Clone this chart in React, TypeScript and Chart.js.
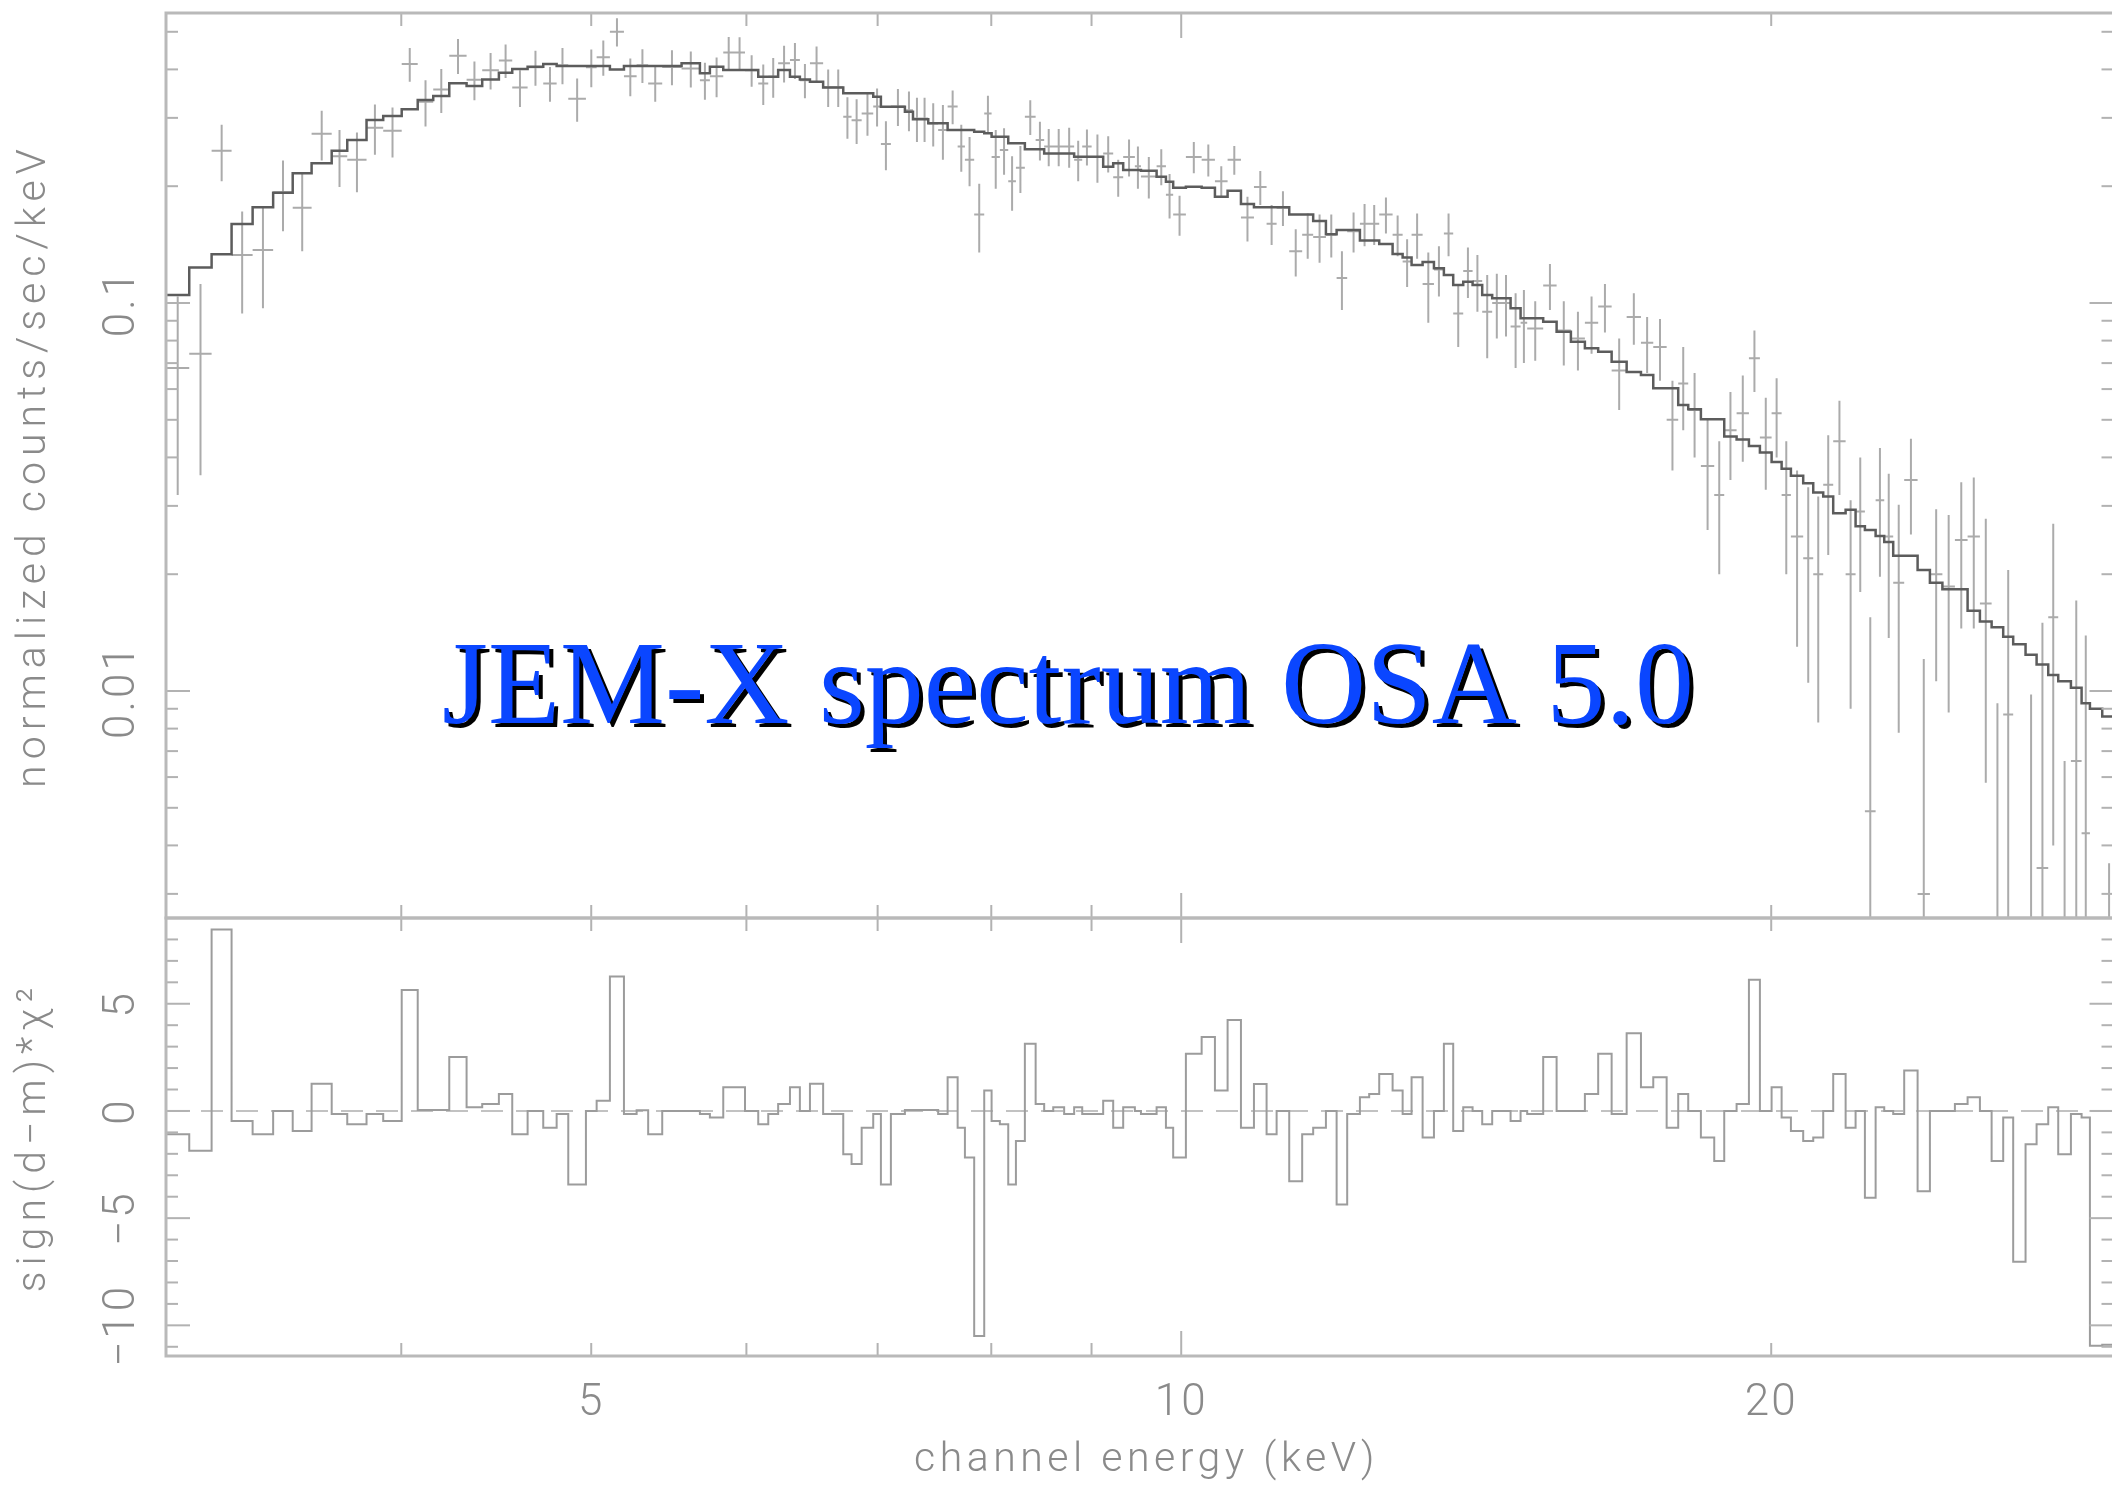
import React, { useEffect, useRef } from "react";
import { Chart, registerables } from "chart.js";

Chart.register(...registerables);

// ---------------- data ----------------
// channel bin edges in keV (163 edges -> 162 bins)
const binEdgesKeV = [
  3.034, 3.118, 3.201, 3.277, 3.359, 3.441, 3.521, 3.6, 3.686, 3.754,
  3.84, 3.916, 4.002, 4.078, 4.153, 4.232, 4.319, 4.399, 4.486, 4.557,
  4.64, 4.726, 4.801, 4.867, 4.969, 5.032, 5.111, 5.196, 5.274, 5.346,
  5.435, 5.56, 5.681, 5.748, 5.839, 5.914, 5.99, 6.084, 6.156, 6.228,
  6.315, 6.389, 6.465, 6.566, 6.644, 6.723, 6.789, 6.87, 6.964, 7.027,
  7.11, 7.228, 7.297, 7.365, 7.429, 7.516, 7.6, 7.69, 7.756, 7.841,
  7.934, 8.003, 8.081, 8.161, 8.235, 8.322, 8.428, 8.513, 8.604, 8.715,
  8.818, 8.902, 9.001, 9.124, 9.232, 9.341, 9.47, 9.538, 9.715, 9.822,
  9.906, 10.055, 10.243, 10.404, 10.56, 10.727, 10.892, 11.055, 11.186, 11.353,
  11.527, 11.677, 11.853, 12.003, 12.153, 12.336, 12.471, 12.619, 12.819, 12.971,
  13.108, 13.279, 13.457, 13.615, 13.765, 13.928, 14.082, 14.242, 14.41, 14.567,
  14.725, 14.899, 15.015, 15.3, 15.543, 15.806, 16.068, 16.321, 16.581, 16.876,
  17.162, 17.412, 17.688, 17.93, 18.142, 18.414, 18.705, 18.926, 19.203, 19.483,
  19.736, 20.009, 20.246, 20.468, 20.766, 21.012, 21.26, 21.511, 21.827, 22.084,
  22.327, 22.61, 22.84, 23.082, 23.382, 23.753, 24.099, 24.455, 24.817, 25.19,
  25.557, 25.911, 26.266, 26.576, 26.965, 27.317, 27.693, 28.02, 28.441, 28.8,
  29.083, 29.507, 29.984,
];

// folded model (normalized counts/sec/keV), one value per bin
const modelRate = [
  0.1049, 0.1234, 0.1336, 0.1598, 0.1764, 0.1925, 0.2159, 0.2291, 0.247, 0.263,
  0.2962, 0.3033, 0.3156, 0.3336, 0.3416, 0.3682, 0.3624, 0.377, 0.3923, 0.4009,
  0.4065, 0.413, 0.408, 0.408, 0.408, 0.408, 0.4, 0.408, 0.408, 0.408,
  0.408, 0.4146, 0.3907, 0.4065, 0.3985, 0.3985, 0.3985, 0.383, 0.383, 0.3985,
  0.383, 0.377, 0.372, 0.3595, 0.3595, 0.347, 0.347, 0.347, 0.3402, 0.3206,
  0.3206, 0.3112, 0.2974, 0.2974, 0.2904, 0.2904, 0.2791, 0.2791, 0.2791, 0.2764,
  0.2737, 0.2683, 0.2683, 0.2579, 0.2579, 0.2489, 0.2489, 0.243, 0.243, 0.243,
  0.2383, 0.2383, 0.2383, 0.2246, 0.2291, 0.2202, 0.2202, 0.2193, 0.2116, 0.2054,
  0.1982, 0.1994, 0.1982, 0.1879, 0.1947, 0.18, 0.1764, 0.1764, 0.1764, 0.1692,
  0.1692, 0.1626, 0.1503, 0.1542, 0.1542, 0.1449, 0.1449, 0.1419, 0.1338, 0.131,
  0.1253, 0.1276, 0.1229, 0.1181, 0.1112, 0.1134, 0.1112, 0.1049, 0.1028, 0.1028,
  0.0969, 0.0913, 0.0913, 0.0895, 0.0843, 0.0795, 0.0764, 0.0749, 0.0706, 0.0664,
  0.0652, 0.0603, 0.0603, 0.0546, 0.0532, 0.0502, 0.0502, 0.0453, 0.0445, 0.0428,
  0.0412, 0.0389, 0.0374, 0.0359, 0.0343, 0.0325, 0.0317, 0.0287, 0.0293, 0.0266,
  0.026, 0.0251, 0.0242, 0.0223, 0.0223, 0.0205, 0.019, 0.0183, 0.0183, 0.0161,
  0.0151, 0.0146, 0.0138, 0.0132, 0.0124, 0.0117, 0.011, 0.0106, 0.0102, 0.0093,
  0.009, 0.0086,
];

// measured rate per bin
const dataRate = [
  0.068, 0.074, 0.247, 0.133, 0.137, 0.193, 0.176, 0.273, 0.239, 0.234,
  0.283, 0.278, 0.413, 0.33, 0.355, 0.434, 0.376, 0.398, 0.422, 0.359,
  0.405, 0.368, 0.41, 0.336, 0.405, 0.43, 0.5, 0.384, 0.41, 0.368,
  0.406, 0.402, 0.375, 0.384, 0.442, 0.442, 0.398, 0.368, 0.383, 0.415,
  0.423, 0.375, 0.415, 0.36, 0.36, 0.302, 0.296, 0.308, 0.321, 0.257,
  0.321, 0.314, 0.299, 0.299, 0.29, 0.279, 0.321, 0.253, 0.234, 0.169,
  0.308, 0.238, 0.248, 0.206, 0.223, 0.302, 0.263, 0.253, 0.253, 0.253,
  0.234, 0.253, 0.238, 0.243, 0.211, 0.238, 0.225, 0.212, 0.225, 0.19,
  0.169, 0.238, 0.234, 0.206, 0.234, 0.166, 0.199, 0.16, 0.176, 0.136,
  0.15, 0.148, 0.15, 0.116, 0.153, 0.16, 0.16, 0.169, 0.15, 0.128,
  0.15, 0.112, 0.122, 0.151, 0.094, 0.121, 0.114, 0.095, 0.1, 0.1,
  0.087, 0.089, 0.086, 0.111, 0.085, 0.081, 0.089, 0.098, 0.067, 0.092,
  0.079, 0.077, 0.05, 0.062, 0.053, 0.038, 0.032, 0.047, 0.052, 0.072,
  0.045, 0.052, 0.032, 0.025, 0.022, 0.02, 0.034, 0.044, 0.02, 0.029,
  0.0049, 0.031, 0.025, 0.019, 0.035, 0.003, 0.02, 0.0186, 0.0245, 0.025,
  0.0168, 0.0015, 0.0087, -0.012, 0.0015, 0.0035, 0.0155, 0.001, 0.0066, 0.0043,
  -0.02, 0.0006,
];

// 1-sigma error per bin
const dataSigma = [
  0.036, 0.038, 0.041, 0.039, 0.04, 0.04, 0.04, 0.04, 0.04, 0.041,
  0.042, 0.041, 0.041, 0.045, 0.046, 0.045, 0.043, 0.043, 0.042, 0.039,
  0.042, 0.038, 0.044, 0.043, 0.045, 0.045, 0.042, 0.043, 0.041, 0.038,
  0.042, 0.043, 0.041, 0.045, 0.043, 0.042, 0.037, 0.044, 0.045, 0.045,
  0.045, 0.038, 0.043, 0.04, 0.04, 0.037, 0.039, 0.038, 0.036, 0.037,
  0.035, 0.037, 0.039, 0.039, 0.037, 0.045, 0.032, 0.035, 0.034, 0.034,
  0.034, 0.041, 0.034, 0.033, 0.031, 0.031, 0.03, 0.028, 0.028, 0.03,
  0.028, 0.027, 0.034, 0.026, 0.023, 0.026, 0.028, 0.026, 0.024, 0.025,
  0.02, 0.022, 0.022, 0.019, 0.02, 0.022, 0.02, 0.019, 0.018, 0.019,
  0.02, 0.021, 0.019, 0.02, 0.018, 0.02, 0.019, 0.018, 0.018, 0.018,
  0.02, 0.023, 0.018, 0.019, 0.017, 0.018, 0.019, 0.023, 0.019, 0.018,
  0.019, 0.019, 0.015, 0.015, 0.016, 0.014, 0.015, 0.014, 0.014, 0.014,
  0.013, 0.014, 0.013, 0.015, 0.013, 0.012, 0.012, 0.012, 0.013, 0.013,
  0.012, 0.012, 0.012, 0.012, 0.0115, 0.0117, 0.0116, 0.012, 0.011, 0.011,
  0.0106, 0.0113, 0.0113, 0.0112, 0.0097, 0.0091, 0.0094, 0.0098, 0.01, 0.0105,
  0.011, 0.0078, 0.0118, 0.0095, 0.0083, 0.0115, 0.0115, 0.0056, 0.0105, 0.0096,
  0.009, 0.003,
];

// sign(d-m) * chi^2 per bin
const residualChi = [
  -1.09, -1.86, 8.46, -0.47, -1.09, 0, -0.93, 1.27, -0.14, -0.62,
  -0.14, -0.47, 5.64, 0.05, 0.05, 2.52, 0.17, 0.33, 0.79, -1.09,
  0, -0.78, -0.14, -3.43, 0, 0.48, 6.27, -0.14, 0.03, -1.09,
  0, 0, -0.14, -0.3, 1.1, 1.1, 0, -0.62, -0.14, 0.33,
  1.1, 0, 1.27, -0.14, -0.14, -2.02, -2.48, -0.78, -0.14, -3.43,
  -0.14, 0.05, 0.05, 0.05, 0.05, -0.14, 1.57, -0.78, -2.17, -10.5,
  0.95, -0.47, -0.62, -3.43, -1.4, 3.14, 0.33, 0, 0.17, -0.14,
  0.17, -0.14, -0.14, 0.48, -0.78, 0.17, 0, -0.14, 0.17, -0.78,
  -2.17, 2.67, 3.45, 0.95, 4.24, -0.78, 1.26, -1.09, 0, -3.28,
  -1.09, -0.78, 0, -4.36, -0.14, 0.64, 0.79, 1.72, 0.95, -0.14,
  1.57, -1.24, 0, 3.14, -0.93, 0.17, 0, -0.62, 0, 0,
  -0.47, 0, -0.14, 2.52, 0, 0, 0.79, 2.67, -0.14, 3.62,
  1.1, 1.57, -0.78, 0.79, 0, -1.24, -2.34, 0, 0.33, 6.12,
  0, 1.1, -0.3, -0.93, -1.4, -1.24, 0, 1.72, -0.78, 0,
  -4.05, 0.17, 0, -0.14, 1.89, -3.74, 0, 0, 0.33, 0.64,
  0, -2.34, -0.3, -7.03, -1.55, -0.62, 0.17, -2.02, -0.14, -0.3,
  -10.95, -10.9,
];

// axis ranges
const energyRange = [3.034, 29.9];
const rateRange = [0.0026, 0.559];
const residualRange = [-11.43, 9.0];

// ticks and labels
const energyMinorTicks = [4, 5, 6, 7, 8, 9, 20];
const energyMajorTicks = [10];
const energyTickLabels = [5, 10, 20];
const rateMajorTicks = [0.01, 0.1];
const rateMinorTicks = [
  0.003, 0.004, 0.005, 0.006, 0.007, 0.008, 0.009,
  0.02, 0.03, 0.04, 0.05, 0.06, 0.07, 0.08, 0.09,
  0.2, 0.3, 0.4, 0.5,
];
const rateTickLabels = ["0.01", "0.1"];
const residualMajorTicks = [-10, -5, 0, 5];
const residualMinorTicks = [-11, -9, -8, -7, -6, -4, -3, -2, -1, 1, 2, 3, 4, 6, 7, 8];
const residualTickLabels = ["−10", "−5", "0", "5"];

const chartTitle = "JEM-X spectrum OSA 5.0";
const rateAxisTitle = "normalized counts/sec/keV";
const residualAxisTitle = "sign(d−m)*χ²";
const energyAxisTitle = "channel energy (keV)";

// ---------------- styles ----------------
const FRAME_COLOR = "#b9b9b9";
const TICK_COLOR = "#b2b2b2";
const LABEL_COLOR = "#8a8a8a";
const MODEL_COLOR = "#5c5c5c";
const DATA_COLOR = "#ababab";
const RES_COLOR = "#9c9c9c";
const ZERO_COLOR = "#c2c2c2";
const LABEL_FONT = '300 44px Roboto, "Liberation Sans", sans-serif';
const TITLE_FONT = '300 41px Roboto, "Liberation Sans", sans-serif';
const BIG_FONT = '118px "Liberation Serif", "Times New Roman", serif';

const CANVAS_W = 2115;

function rotatedText(ctx: CanvasRenderingContext2D, text: string, x: number, y: number, font: string, spacing: number) {
  ctx.save();
  ctx.translate(x, y);
  ctx.rotate(-Math.PI / 2);
  ctx.font = font;
  (ctx as any).letterSpacing = spacing + "px";
  ctx.textAlign = "center";
  ctx.textBaseline = "alphabetic";
  ctx.fillStyle = LABEL_COLOR;
  ctx.fillText(text, 0, 0);
  ctx.restore();
}

function makeFramePlugin(panel: "rate" | "residual") {
  return {
    id: "frame-" + panel,
    afterDatasetsDraw(chart: any) {
      const ctx: CanvasRenderingContext2D = chart.ctx;
      const a = chart.chartArea;
      const xs = chart.scales.x;
      const ys = chart.scales.y;
      ctx.save();
      ctx.lineCap = "butt";
      ctx.strokeStyle = TICK_COLOR;
      ctx.lineWidth = 2;
      const seg = (x0: number, y0: number, x1: number, y1: number) => {
        ctx.beginPath();
        ctx.moveTo(x0, y0);
        ctx.lineTo(x1, y1);
        ctx.stroke();
      };
      const xTick = (v: number, len: number) => {
        const px = xs.getPixelForValue(v);
        seg(px, a.top, px, a.top + len);
        seg(px, a.bottom, px, a.bottom - len);
      };
      energyMinorTicks.forEach((v) => xTick(v, 13));
      energyMajorTicks.forEach((v) => xTick(v, 25));
      const yTick = (v: number, len: number) => {
        const py = ys.getPixelForValue(v);
        seg(a.left, py, a.left + len, py);
        seg(a.right, py, a.right - len, py);
      };
      if (panel === "rate") {
        rateMinorTicks.forEach((v) => yTick(v, 12));
        rateMajorTicks.forEach((v) => yTick(v, 24));
      } else {
        residualMinorTicks.forEach((v) => yTick(v, 12));
        residualMajorTicks.forEach((v) => yTick(v, 24));
      }
      ctx.strokeStyle = FRAME_COLOR;
      ctx.lineWidth = 3;
      ctx.strokeRect(a.left, a.top, a.right - a.left, a.bottom - a.top);

      // y tick labels and axis title (rotated)
      const labelX = a.left - 32;
      const titleX = a.left - 121;
      const midY = (a.top + a.bottom) / 2;
      if (panel === "rate") {
        rateMajorTicks.forEach((v, i) => rotatedText(ctx, rateTickLabels[i], labelX, ys.getPixelForValue(v), LABEL_FONT, 3));
        rotatedText(ctx, rateAxisTitle, titleX, midY, TITLE_FONT, 6);
        // overlay caption
        ctx.font = BIG_FONT;
        (ctx as any).letterSpacing = "0px";
        ctx.textAlign = "left";
        ctx.textBaseline = "alphabetic";
        ctx.fillStyle = "#000000";
        ctx.fillText(chartTitle, a.left + 280, a.top + 714);
        ctx.fillStyle = "#0a46ff";
        ctx.fillText(chartTitle, a.left + 276, a.top + 710);
      } else {
        residualMajorTicks.forEach((v, i) => rotatedText(ctx, residualTickLabels[i], labelX, ys.getPixelForValue(v), LABEL_FONT, 3));
        rotatedText(ctx, residualAxisTitle, titleX, midY, TITLE_FONT, 6);
        // x tick labels + title
        ctx.font = LABEL_FONT;
        (ctx as any).letterSpacing = "2px";
        ctx.textAlign = "center";
        ctx.textBaseline = "alphabetic";
        ctx.fillStyle = LABEL_COLOR;
        energyTickLabels.forEach((v) => ctx.fillText(String(v), xs.getPixelForValue(v), a.bottom + 59));
        ctx.font = TITLE_FONT;
        (ctx as any).letterSpacing = "4.5px";
        ctx.fillText(energyAxisTitle, xs.getPixelForValue(9.6), a.bottom + 115);
      }
      ctx.restore();
    },
  };
}

function stepPoints(values: number[]) {
  return binEdgesKeV.map((e, i) => ({ x: e, y: values[Math.min(i, values.length - 1)] }));
}

function errorBarPoints() {
  const pts: { x: number; y: number | null }[] = [];
  for (let i = 0; i < dataRate.length; i++) {
    const c = (binEdgesKeV[i] + binEdgesKeV[i + 1]) / 2;
    const hi = dataRate[i] + dataSigma[i];
    if (hi <= 0) continue;
    const lo = Math.max(dataRate[i] - dataSigma[i], rateRange[0] * 0.3);
    pts.push({ x: c, y: lo }, { x: c, y: hi }, { x: c, y: null });
  }
  return pts;
}

function binBarPoints() {
  const pts: { x: number; y: number | null }[] = [];
  for (let i = 0; i < dataRate.length; i++) {
    if (dataRate[i] <= 0) continue;
    pts.push(
      { x: binEdgesKeV[i], y: dataRate[i] },
      { x: binEdgesKeV[i + 1], y: dataRate[i] },
      { x: binEdgesKeV[i + 1], y: null }
    );
  }
  return pts;
}

const commonOptions = (yScale: any, pad: any) => ({
  responsive: false,
  animation: false as const,
  devicePixelRatio: 1,
  events: [] as any[],
  layout: { padding: pad },
  plugins: { legend: { display: false }, tooltip: { enabled: false }, title: { display: false } },
  elements: { point: { radius: 0 }, line: { tension: 0 } },
  scales: {
    x: { type: "logarithmic", min: energyRange[0], max: energyRange[1], display: false },
    y: yScale,
  },
});

export default function App() {
  const topRef = useRef<HTMLCanvasElement>(null);
  const botRef = useRef<HTMLCanvasElement>(null);

  useEffect(() => {
    const top = new Chart(topRef.current as HTMLCanvasElement, {
      type: "line",
      data: {
        datasets: [
          {
            label: "model",
            data: stepPoints(modelRate),
            stepped: "before",
            borderColor: MODEL_COLOR,
            borderWidth: 2.5,
            pointRadius: 0,
            fill: false,
            clip: 0,
          },
          {
            label: "data error",
            data: errorBarPoints(),
            borderColor: DATA_COLOR,
            borderWidth: 2,
            pointRadius: 0,
            fill: false,
            spanGaps: false,
            clip: 0,
          },
          {
            label: "data bin",
            data: binBarPoints(),
            borderColor: DATA_COLOR,
            borderWidth: 2,
            pointRadius: 0,
            fill: false,
            spanGaps: false,
            clip: 0,
          },
        ],
      } as any,
      options: commonOptions(
        { type: "logarithmic", min: rateRange[0], max: rateRange[1], display: false },
        { left: 166, top: 13, right: 1.5, bottom: 12 }
      ) as any,
      plugins: [makeFramePlugin("rate")],
    });

    const bot = new Chart(botRef.current as HTMLCanvasElement, {
      type: "line",
      data: {
        datasets: [
          {
            label: "residual",
            data: stepPoints(residualChi),
            stepped: "before",
            borderColor: RES_COLOR,
            borderWidth: 2,
            pointRadius: 0,
            fill: false,
            clip: 0,
          },
          {
            label: "zero",
            data: [
              { x: energyRange[0], y: 0 },
              { x: energyRange[1], y: 0 },
            ],
            borderColor: ZERO_COLOR,
            borderWidth: 2,
            borderDash: [22, 13],
            pointRadius: 0,
            fill: false,
            clip: 0,
          },
        ],
      } as any,
      options: commonOptions(
        { type: "linear", min: residualRange[0], max: residualRange[1], display: false },
        { left: 166, top: 13, right: 1.5, bottom: 129 }
      ) as any,
      plugins: [makeFramePlugin("residual")],
    });

    return () => {
      top.destroy();
      bot.destroy();
    };
  }, []);

  return (
    <div
      style={{
        position: "fixed",
        left: 0,
        top: 0,
        width: 2112,
        height: 1485,
        background: "#ffffff",
        overflow: "hidden",
      }}
    >
      <canvas ref={topRef} width={CANVAS_W} height={930} style={{ position: "absolute", left: 0, top: 0 }} />
      <canvas ref={botRef} width={CANVAS_W} height={580} style={{ position: "absolute", left: 0, top: 905 }} />
    </div>
  );
}
